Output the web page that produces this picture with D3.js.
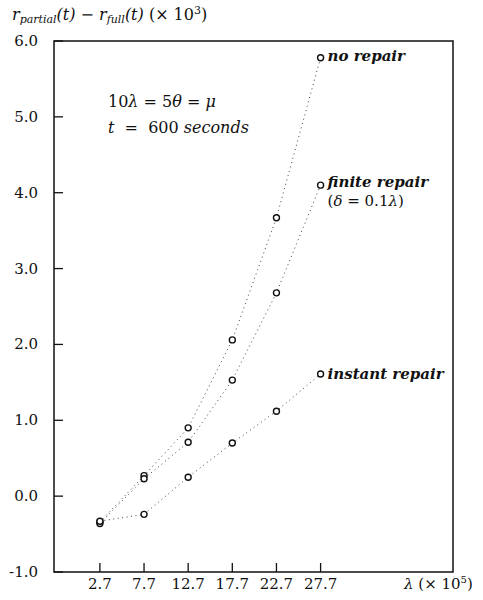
<!DOCTYPE html>
<style>
  body { margin: 0; background: #fff; }
  text { font-family: "DejaVu Serif", "Liberation Serif", serif; fill: #111; }
  .tick-label { font-size: 15px; }
  .title-label { font-size: 16px; }
  .curve-label { font-size: 15px; font-style: italic; font-weight: bold; }
</style>
<body>
  <div id="svg_frame"></div>
</body>
<script src="https://cdnjs.cloudflare.com/ajax/libs/d3/7.8.5/d3.min.js"></script>
<script>
  // lambda values (x 10^5)
  var lambdas = [2.7, 7.7, 12.7, 17.7, 22.7, 27.7];
  var yTicks = [6.0, 5.0, 4.0, 3.0, 2.0, 1.0, 0.0, -1.0];

  // r_partial(t) - r_full(t)  (x 10^3)
  var noRepair = [-0.34, 0.27, 0.90, 2.06, 3.67, 5.78];
  var finiteRepair = [-0.36, 0.23, 0.71, 1.53, 2.68, 4.10];
  var instantRepair = [-0.33, -0.24, 0.25, 0.70, 1.12, 1.61];

  var series = [
    { name: "no repair", values: noRepair },
    { name: "finite repair", values: finiteRepair },
    { name: "instant repair", values: instantRepair }
  ];

  var width = 483, height = 600;
  var plotLeft = 54, plotRight = 453, plotTop = 41, plotBottom = 572;

  var x = d3.scaleLinear().domain([-2.5, 42.7]).range([plotLeft, plotRight]);
  var y = d3.scaleLinear().domain([-1, 6]).range([plotBottom, plotTop]);

  var svg = d3.select("#svg_frame").append("svg")
    .attr("width", width)
    .attr("height", height);

  // frame
  svg.append("rect")
    .attr("x", plotLeft).attr("y", plotTop)
    .attr("width", plotRight - plotLeft).attr("height", plotBottom - plotTop)
    .attr("fill", "none").attr("stroke", "#111").attr("stroke-width", 1.5);

  // y ticks (inward) and labels
  svg.selectAll(".ytick").data(yTicks).enter().append("line")
    .attr("x1", plotLeft).attr("x2", plotLeft + 9)
    .attr("y1", function (d) { return y(d); })
    .attr("y2", function (d) { return y(d); })
    .attr("stroke", "#111").attr("stroke-width", 1.3);

  svg.selectAll(".ylab").data(yTicks).enter().append("text")
    .attr("class", "tick-label")
    .attr("x", 38)
    .attr("y", function (d) { return y(d) + 5; })
    .attr("text-anchor", "end")
    .text(function (d) { return d3.format(".1f")(d).replace("−", "-"); });

  // x ticks and labels
  svg.selectAll(".xtick").data(lambdas).enter().append("line")
    .attr("x1", function (d) { return x(d); })
    .attr("x2", function (d) { return x(d); })
    .attr("y1", plotBottom).attr("y2", plotBottom - 9)
    .attr("stroke", "#111").attr("stroke-width", 1.3);

  svg.selectAll(".xlab").data(lambdas).enter().append("text")
    .attr("class", "tick-label")
    .attr("x", function (d) { return x(d); })
    .attr("y", 589)
    .attr("text-anchor", "middle")
    .text(function (d) { return d3.format(".1f")(d); });

  // axis titles
  var xt = svg.append("text").attr("class", "tick-label").attr("x", 404).attr("y", 589);
  xt.append("tspan").style("font-style", "italic").text("λ");
  xt.append("tspan").text(" (× 10");
  xt.append("tspan").attr("dy", -6).style("font-size", "10px").text("5");
  xt.append("tspan").attr("dy", 6).text(")");

  var yt = svg.append("text").attr("class", "title-label").attr("x", 12).attr("y", 20);
  yt.append("tspan").style("font-style", "italic").text("r");
  yt.append("tspan").attr("dy", 3).style("font-style", "italic").style("font-size", "11px").text("partial");
  yt.append("tspan").attr("dy", -3).style("font-style", "italic").text("(t) − r");
  yt.append("tspan").attr("dy", 3).style("font-style", "italic").style("font-size", "11px").text("full");
  yt.append("tspan").attr("dy", -3).style("font-style", "italic").text("(t)");
  yt.append("tspan").text(" (× 10");
  yt.append("tspan").attr("dy", -6).style("font-size", "11px").text("3");
  yt.append("tspan").attr("dy", 6).text(")");

  // curves
  var line = d3.line()
    .x(function (d, i) { return x(lambdas[i]); })
    .y(function (d) { return y(d); });

  series.forEach(function (s) {
    svg.append("path")
      .attr("d", line(s.values))
      .attr("fill", "none")
      .attr("stroke", "#444")
      .attr("stroke-width", 1)
      .attr("stroke-dasharray", "1,3.5");

    svg.selectAll(null).data(s.values).enter().append("circle")
      .attr("cx", function (d, i) { return x(lambdas[i]); })
      .attr("cy", function (d) { return y(d); })
      .attr("r", 3)
      .attr("fill", "#fff")
      .attr("stroke", "#111")
      .attr("stroke-width", 1.4);
  });

  // curve labels
  var lx = x(lambdas[5]) + 7;
  svg.append("text").attr("class", "curve-label")
    .attr("x", lx).attr("y", y(noRepair[5]) + 3).text("no repair");
  svg.append("text").attr("class", "curve-label")
    .attr("x", lx).attr("y", y(finiteRepair[5]) + 2).text("finite repair");
  var fl = svg.append("text").attr("class", "tick-label")
    .attr("x", lx).attr("y", y(finiteRepair[5]) + 21);
  fl.append("tspan").text("(");
  fl.append("tspan").style("font-style", "italic").text("δ");
  fl.append("tspan").text(" = 0.1");
  fl.append("tspan").style("font-style", "italic").text("λ");
  fl.append("tspan").text(")");
  svg.append("text").attr("class", "curve-label")
    .attr("x", lx).attr("y", y(instantRepair[5]) + 5).text("instant repair");

  // annotation
  var n1 = svg.append("text").attr("class", "title-label").attr("x", 108).attr("y", 107);
  n1.append("tspan").text("10");
  n1.append("tspan").style("font-style", "italic").text("λ");
  n1.append("tspan").text(" = 5");
  n1.append("tspan").style("font-style", "italic").text("θ");
  n1.append("tspan").text(" = ");
  n1.append("tspan").style("font-style", "italic").text("μ");

  var n2 = svg.append("text").attr("class", "title-label").attr("x", 108).attr("y", 133)
    .attr("xml:space", "preserve");
  n2.append("tspan").style("font-style", "italic").text("t");
  n2.append("tspan").text("  =  600 ");
  n2.append("tspan").style("font-style", "italic").text("seconds");
</script>
